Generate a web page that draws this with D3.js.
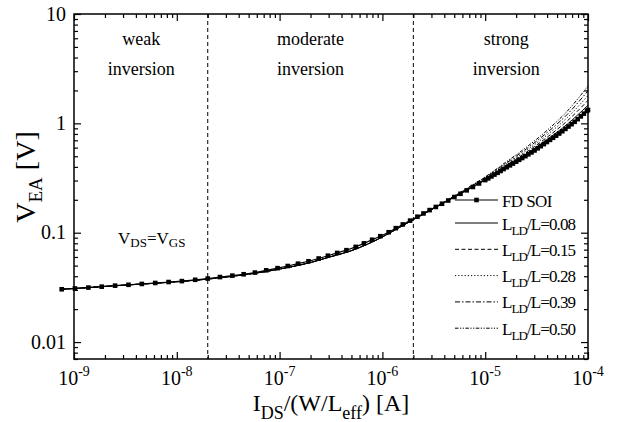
<!DOCTYPE html>
<html>
<head>
<meta charset="utf-8">
<script src="https://cdn.jsdelivr.net/npm/d3@7"></script>
<style>
  html, body { margin: 0; padding: 0; background: #fff; }
  svg text { font-family: "Liberation Serif", "Times New Roman", Times, serif; fill: #000; }
</style>
</head>
<body>
<svg id="chart" width="619" height="422" font-family="Liberation Serif"></svg>
<script>
// ---- data ------------------------------------------------------------
// FD SOI device: normalised drain current [A] and Early voltage [V]
const fdsoiIds = [
  7.59e-10, 1.02e-9, 1.38e-9, 1.86e-9, 2.51e-9, 3.39e-9, 4.57e-9, 6.17e-9, 8.32e-9,
  1.12e-8, 1.51e-8, 2.00e-8, 2.63e-8, 3.47e-8, 4.47e-8, 5.75e-8, 7.41e-8, 9.55e-8,
  1.20e-7, 1.51e-7, 1.91e-7, 2.40e-7, 2.95e-7, 3.63e-7, 4.47e-7, 5.50e-7, 6.61e-7, 7.94e-7, 9.55e-7,
  1.15e-6, 1.35e-6, 1.58e-6, 1.86e-6, 2.19e-6, 2.51e-6, 2.88e-6, 3.31e-6, 3.80e-6, 4.37e-6,
  5.01e-6, 5.75e-6, 6.61e-6, 7.59e-6, 8.71e-6, 1.00e-5,
  1.07e-5, 1.15e-5, 1.23e-5, 1.32e-5, 1.41e-5, 1.51e-5, 1.62e-5, 1.74e-5, 1.86e-5, 2.00e-5,
  2.14e-5, 2.29e-5, 2.46e-5, 2.63e-5, 2.82e-5, 3.02e-5, 3.24e-5, 3.47e-5, 3.72e-5, 3.98e-5,
  4.27e-5, 4.57e-5, 4.90e-5, 5.25e-5, 5.62e-5, 6.03e-5, 6.46e-5, 6.92e-5, 7.41e-5, 7.94e-5,
  8.51e-5, 9.12e-5, 9.77e-5, 1.00e-4
];
const fdsoiVea = [
  0.0304, 0.0309, 0.0315, 0.0321, 0.0328, 0.0334, 0.0340, 0.0347, 0.0354,
  0.0361, 0.0371, 0.0381, 0.0393, 0.0405, 0.0417, 0.0432, 0.0453, 0.0474,
  0.0496, 0.0521, 0.0548, 0.0581, 0.0616, 0.0653, 0.0692, 0.0742, 0.0799, 0.0862, 0.0929,
  0.101, 0.110, 0.119, 0.129, 0.140, 0.150, 0.161, 0.172, 0.184, 0.197,
  0.212, 0.227, 0.244, 0.262, 0.282, 0.303,
  0.314, 0.327, 0.340, 0.353, 0.367, 0.382, 0.397, 0.413, 0.429, 0.446,
  0.464, 0.482, 0.501, 0.521, 0.542, 0.565, 0.591, 0.618, 0.646, 0.675,
  0.706, 0.738, 0.772, 0.807, 0.847, 0.890, 0.935, 0.983, 1.033, 1.093,
  1.158, 1.227, 1.299, 1.324
];

// Devices with lightly doped drain extensions (L_LD/L ratios)
const lddRatios = ["0.08", "0.15", "0.28", "0.39", "0.50"];
const lddIds = [
  7.59e-10, 1e-9, 3.16e-9, 1e-8, 3.16e-8, 1e-7, 2.00e-7, 3.16e-7, 5.01e-7, 1e-6,
  1.58e-6, 2.51e-6, 3.98e-6, 6.31e-6, 1e-5, 1.58e-5, 2.51e-5, 3.98e-5, 6.31e-5, 1e-4
];
const vea008 = [0.0304, 0.0309, 0.0332, 0.0356, 0.0395, 0.0465, 0.0534, 0.0604, 0.0686, 0.0915,
                0.1165, 0.148, 0.189, 0.240, 0.307, 0.401, 0.526, 0.709, 0.986, 1.465];
const vea015 = [0.0304, 0.0309, 0.0332, 0.0356, 0.0395, 0.0465, 0.0534, 0.0604, 0.0686, 0.0915,
                0.1165, 0.148, 0.189, 0.242, 0.311, 0.410, 0.544, 0.744, 1.056, 1.621];
const vea028 = [0.0304, 0.0309, 0.0332, 0.0356, 0.0395, 0.0465, 0.0534, 0.0604, 0.0686, 0.0915,
                0.1165, 0.148, 0.190, 0.244, 0.315, 0.420, 0.563, 0.781, 1.132, 1.794];
const vea039 = [0.0304, 0.0309, 0.0332, 0.0356, 0.0395, 0.0465, 0.0534, 0.0604, 0.0686, 0.0915,
                0.1165, 0.148, 0.190, 0.245, 0.320, 0.430, 0.583, 0.820, 1.213, 1.986];
const vea050 = [0.0304, 0.0309, 0.0332, 0.0356, 0.0395, 0.0465, 0.0534, 0.0604, 0.0686, 0.0915,
                0.1165, 0.148, 0.191, 0.247, 0.324, 0.440, 0.604, 0.860, 1.299, 2.198];
const lddVea = [vea008, vea015, vea028, vea039, vea050];

// Axis ticks
const xTickValues = [1e-9, 1e-8, 1e-7, 1e-6, 1e-5, 1e-4];
const xTickExponents = ["-9", "-8", "-7", "-6", "-5", "-4"];
const yTickValues = [0.01, 0.1, 1, 10];
const yTickLabels = ["0.01", "0.1", "1", "10"];

// Operating-region boundaries and labels
const regionBounds = [2e-8, 2e-6];
const regionLabelAt = [4.5e-9, 2e-7, 1.6e-5];
const regionLabels = [["weak", "inversion"], ["moderate", "inversion"], ["strong", "inversion"]];

// ---- drawing -----------------------------------------------------------
const plot = { left: 74, right: 588, top: 14, bottom: 359 };
const svg = d3.select("#chart");

const x = d3.scaleLog().domain([1e-9, 1e-4]).range([plot.left, plot.right]);
const y = d3.scaleLog().domain([0.007, 10]).range([plot.bottom, plot.top]);

const dashes = ["", "4,2.5", "1.2,2", "5,2,1.5,2", "3.5,1.5,1.2,1.5,1.2,1.5"];

// region separators
svg.append("g").selectAll("line").data(regionBounds).join("line")
  .attr("x1", d => x(d)).attr("x2", d => x(d))
  .attr("y1", plot.top).attr("y2", plot.bottom)
  .attr("stroke", "#000").attr("stroke-width", 1).attr("stroke-dasharray", "4,3");

// region labels
const rl = svg.append("g").attr("font-size", 18).attr("text-anchor", "middle");
regionLabels.forEach((lines, i) => {
  lines.forEach((s, j) => {
    rl.append("text").attr("x", x(regionLabelAt[i])).attr("y", 45 + j * 30).text(s);
  });
});

// ticks (inward on all four sides)
const isMajor = v => Math.abs(Math.log10(v) - Math.round(Math.log10(v))) < 1e-6;
const xMinor = x.ticks().filter(v => !isMajor(v));
const yMinor = y.ticks().filter(v => !isMajor(v));

function tickAxis(gen, tr, values, size) {
  const g = svg.append("g").attr("transform", tr)
    .call(gen.tickValues(values).tickSizeInner(size).tickSizeOuter(0).tickFormat(""));
  g.select(".domain").remove();
  g.selectAll(".tick text").remove();
  g.selectAll(".tick line").attr("stroke", "#000").attr("stroke-width", 1.2);
}
tickAxis(d3.axisBottom(x), `translate(0,${plot.bottom})`, xTickValues, -7);
tickAxis(d3.axisBottom(x), `translate(0,${plot.bottom})`, xMinor, -4);
tickAxis(d3.axisTop(x), `translate(0,${plot.top})`, xTickValues, -7);
tickAxis(d3.axisTop(x), `translate(0,${plot.top})`, xMinor, -4);
tickAxis(d3.axisLeft(y), `translate(${plot.left},0)`, yTickValues, -7);
tickAxis(d3.axisLeft(y), `translate(${plot.left},0)`, yMinor, -4);
tickAxis(d3.axisRight(y), `translate(${plot.right},0)`, yTickValues, -7);
tickAxis(d3.axisRight(y), `translate(${plot.right},0)`, yMinor, -4);

// frame
svg.append("rect")
  .attr("x", plot.left).attr("y", plot.top)
  .attr("width", plot.right - plot.left).attr("height", plot.bottom - plot.top)
  .attr("fill", "none").attr("stroke", "#000").attr("stroke-width", 1.5);

// tick labels
svg.append("g").selectAll("text").data(xTickValues).join("text")
  .attr("x", d => x(d)).attr("y", 385)
  .attr("text-anchor", "middle").attr("font-size", 20)
  .each(function (d, i) {
    const t = d3.select(this);
    t.append("tspan").text("10");
    t.append("tspan").attr("dy", -9).attr("font-size", 14).text(xTickExponents[i]);
  });
svg.append("g").selectAll("text").data(yTickValues).join("text")
  .attr("x", 66).attr("y", d => y(d) + 6.6)
  .attr("text-anchor", "end").attr("font-size", 20)
  .text((d, i) => yTickLabels[i]);

// axis titles
const xt = svg.append("text").attr("x", (plot.left + plot.right) / 2).attr("y", 411)
  .attr("text-anchor", "middle").attr("font-size", 24);
xt.append("tspan").text("I");
xt.append("tspan").attr("dy", 8).attr("font-size", 18).text("DS");
xt.append("tspan").attr("dy", -8).text("/(W/L");
xt.append("tspan").attr("dy", 8).attr("font-size", 18).text("eff");
xt.append("tspan").attr("dy", -8).text(")\u00a0[A]");

const yt = svg.append("text").attr("transform", "translate(35,177) rotate(-90)")
  .attr("text-anchor", "middle").attr("font-size", 28);
yt.append("tspan").text("V");
yt.append("tspan").attr("dy", 7).attr("font-size", 19).text("EA");
yt.append("tspan").attr("dy", -7).text("\u00a0[V]");

// bias condition note
const note = svg.append("text").attr("x", 118).attr("y", 244).attr("font-size", 17);
note.append("tspan").text("V");
note.append("tspan").attr("dy", 3).attr("font-size", 13).text("DS");
note.append("tspan").attr("dy", -3).text("=V");
note.append("tspan").attr("dy", 3).attr("font-size", 13).text("GS");

// LDD curves
const lineSmooth = d3.line().x(d => x(d[0])).y(d => y(d[1])).curve(d3.curveMonotoneX);
lddVea.forEach((vals, k) => {
  svg.append("path")
    .attr("d", lineSmooth(lddIds.map((c, i) => [c, vals[i]])))
    .attr("fill", "none").attr("stroke", "#000").attr("stroke-width", 1)
    .attr("stroke-dasharray", dashes[k] || null);
});

// FD SOI curve with square markers
const fdPts = fdsoiIds.map((c, i) => [c, fdsoiVea[i]]);
svg.append("path")
  .attr("d", d3.line().x(d => x(d[0])).y(d => y(d[1]))(fdPts))
  .attr("fill", "none").attr("stroke", "#000").attr("stroke-width", 1.2);
const ms = 4.6;
svg.append("g").selectAll("rect").data(fdPts).join("rect")
  .attr("x", d => x(d[0]) - ms / 2).attr("y", d => y(d[1]) - ms / 2)
  .attr("width", ms).attr("height", ms).attr("fill", "#000");

// legend
const lg = svg.append("g");
const rowY = i => (i === 0 ? 200 : 223 + (i - 1) * 26.3);
const lx0 = 455, lx1 = 498, tx = 502;
lg.append("line").attr("x1", lx0).attr("x2", lx1).attr("y1", rowY(0)).attr("y2", rowY(0))
  .attr("stroke", "#000").attr("stroke-width", 1.2);
lg.append("rect").attr("x", (lx0 + lx1) / 2 - ms / 2).attr("y", rowY(0) - ms / 2)
  .attr("width", ms).attr("height", ms).attr("fill", "#000");
lg.append("text").attr("x", tx).attr("y", rowY(0) + 6.5).attr("font-size", 17)
  .attr("letter-spacing", -0.6).text("FD\u00a0SOI");
lddRatios.forEach((r, k) => {
  const yy = rowY(k + 1);
  lg.append("line").attr("x1", lx0).attr("x2", lx1).attr("y1", yy).attr("y2", yy)
    .attr("stroke", "#000").attr("stroke-width", 1)
    .attr("stroke-dasharray", dashes[k] || null);
  const t = lg.append("text").attr("x", tx).attr("y", yy + 6.5).attr("font-size", 17)
    .attr("letter-spacing", -0.9);
  t.append("tspan").text("L");
  t.append("tspan").attr("dy", 5).attr("font-size", 13).text("LD");
  t.append("tspan").attr("dy", -5).text("/L=" + r);
});
</script>
</body>
</html>
